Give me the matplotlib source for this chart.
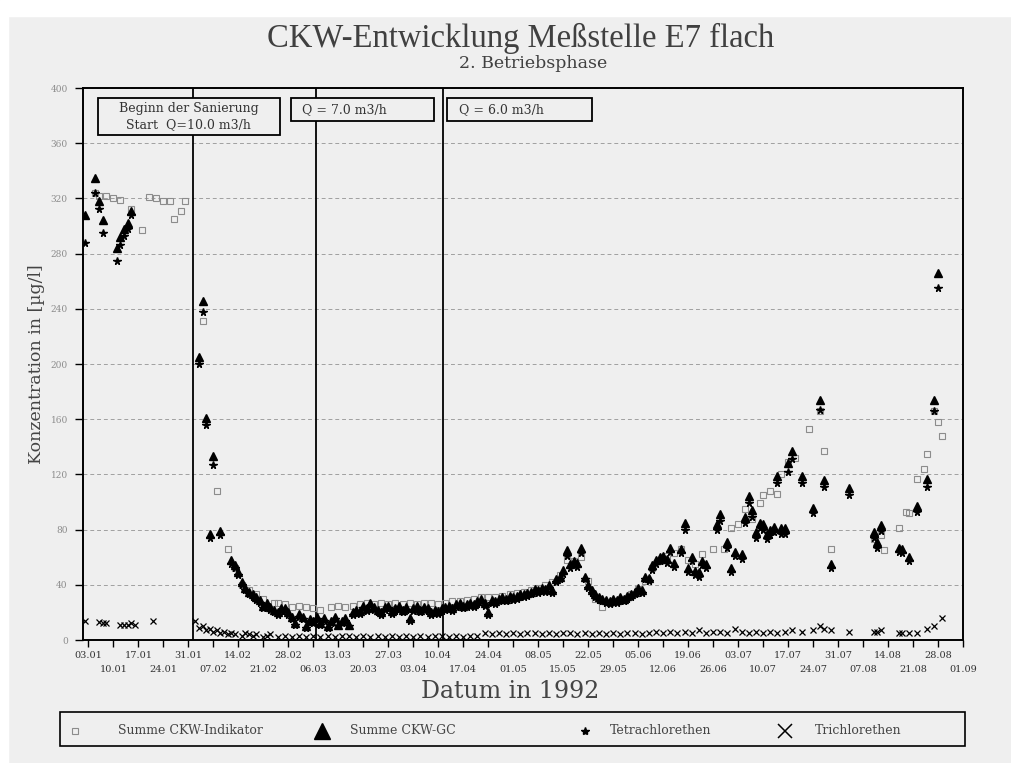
import matplotlib.pyplot as plt
import numpy as np

from matplotlib.lines import Line2D
from matplotlib.patches import Rectangle


HINTERGRUND = '#efefef'  # Farbe des eingescannten Papiers

# Messtage als Tag im Jahr 1992 (1 = 01.01.)
TAGE_GC = [2, 5, 6, 7, 11, 12, 13, 14, 15,
           34, 35, 36, 37, 38, 40, 43, 44, 45, 46, 47, 48, 49, 50, 51, 52, 53, 54, 55, 56, 57, 58, 59, 60,
           61, 62, 63, 64, 65, 66, 67, 68, 69, 70, 71, 72, 73, 74, 75, 76, 77, 78, 79, 80,
           81, 82, 83, 84, 85, 86, 87, 88, 89, 90, 91, 92, 93, 94, 95, 96, 97, 98, 99, 100,
           101, 102, 103, 104, 105, 106, 107, 108, 109, 110, 111, 112, 113, 114, 115, 116, 117, 118, 119, 120,
           121, 122, 123, 124, 125, 126, 127, 128, 129, 130, 131, 132, 133, 134, 135, 136, 137, 138, 139, 140,
           141, 142, 143, 144, 145, 146, 147, 148, 149, 150, 151, 152, 153, 154, 155, 156, 157, 158, 159, 160,
           161, 162, 163, 164, 165, 166, 167, 169, 170, 171, 172, 173, 174, 175, 176, 179, 180, 182, 183, 184,
           186, 187, 188, 189, 190, 191, 192, 193, 194, 195, 196, 197, 198, 199, 200, 203, 206, 208, 209, 211,
           216, 223, 224, 225, 230, 231, 233, 235, 238, 240, 241]

SUMME_GC = [308, 335, 318, 304, 284, 292, 298, 302, 311,
            205, 246, 161, 77, 133, 79, 58, 54, 49, 42, 38, 35, 33, 31, 29, 25, 27, 24, 22, 20, 23, 23, 20, 17,
            12, 19, 17, 10, 15, 14, 17, 12, 16, 10, 14, 17, 11, 14, 16, 11, 20, 22, 21, 25,
            23, 27, 24, 22, 20, 24, 25, 21, 23, 25, 22, 24, 16, 23, 25, 22, 24, 23, 20, 22,
            21, 23, 24, 25, 23, 26, 27, 25, 26, 27, 26, 28, 30, 27, 20, 29, 28, 30, 31, 30,
            32, 31, 32, 33, 33, 34, 35, 37, 36, 38, 37, 40, 36, 44, 46, 51, 65, 55, 57, 56,
            67, 46, 40, 36, 33, 31, 30, 29, 28, 30, 29, 31, 30, 32, 33, 35, 38, 36, 46, 45,
            54, 58, 60, 61, 59, 67, 56, 66, 85, 52, 60, 50, 49, 57, 55, 84, 91, 71, 52, 64,
            62, 89, 104, 94, 78, 85, 84, 77, 80, 82, 119, 81, 81, 128, 137, 119, 96, 174, 116, 55,
            110, 78, 71, 83, 67, 66, 60, 97, 117, 174, 266]

TETRA = [288, 324, 312, 295, 275, 286, 293, 298, 308,
         200, 238, 156, 74, 127, 76, 55, 52, 47, 40, 36, 33, 31, 29, 27, 23, 25, 22, 20, 18, 21, 21, 18, 15,
         11, 17, 15, 9, 13, 12, 15, 11, 14, 9, 12, 15, 10, 12, 14, 10, 18, 20, 19, 23,
         21, 25, 22, 20, 18, 22, 23, 19, 21, 23, 20, 22, 14, 21, 23, 20, 22, 21, 18, 20,
         19, 21, 22, 23, 21, 24, 25, 23, 24, 25, 24, 26, 28, 25, 18, 27, 26, 28, 29, 28,
         30, 29, 30, 31, 31, 32, 33, 35, 34, 36, 35, 38, 34, 42, 44, 48, 61, 52, 54, 53,
         63, 44, 38, 34, 31, 29, 28, 27, 26, 28, 27, 29, 28, 30, 31, 33, 36, 34, 44, 43,
         51, 55, 57, 58, 56, 64, 53, 63, 80, 49, 57, 47, 46, 54, 52, 80, 86, 67, 49, 61,
         59, 85, 99, 89, 74, 81, 80, 73, 76, 78, 114, 77, 77, 122, 131, 114, 92, 167, 111, 52,
         105, 74, 67, 79, 64, 63, 57, 93, 111, 166, 255]

TAGE_INDIKATOR = [5, 6, 8, 10, 12, 15, 18, 20, 22, 24, 26, 27, 29, 30,
                  35, 39, 42, 44, 46, 48, 50, 52, 55, 56, 58, 60, 62, 64, 66, 68, 71, 73, 75, 77, 79,
                  81, 83, 85, 87, 89, 91, 93, 95, 97, 99, 101, 103, 105, 107, 109, 111, 113, 115, 117, 119,
                  121, 123, 125, 127, 129, 131, 133, 135, 137, 139, 141, 143, 145, 147, 149, 151, 153, 155, 157, 159,
                  161, 163, 165, 167, 169, 171, 173, 175, 178, 181, 183, 185, 187, 189, 191, 192, 194, 196, 197, 199,
                  201, 205, 208, 209, 211, 223, 225, 226, 230, 232, 233, 235, 237, 238, 240, 241, 242]

INDIKATOR = [324, 322, 322, 320, 319, 312, 297, 321, 320, 318, 318, 305, 311, 318,
             231, 108, 66, 52, 40, 36, 33, 30, 27, 27, 26, 24, 25, 24, 23, 22, 24, 25, 24, 25, 26,
             27, 26, 27, 26, 27, 26, 27, 26, 27, 27, 26, 27, 28, 28, 29, 30, 31, 31, 31, 32,
             33, 34, 35, 36, 38, 40, 42, 47, 58, 57, 60, 43, 30, 24, 27, 28, 30, 33, 37, 43,
             52, 57, 61, 63, 66, 58, 55, 62, 66, 66, 81, 84, 95, 88, 99, 105, 108, 106, 120, 129,
             132, 153, 166, 137, 66, 73, 76, 65, 81, 93, 92, 117, 124, 135, 166, 158, 148]

TAGE_TRI = [2, 6, 7, 8, 12, 13, 14, 15, 16, 21,
            33, 34, 35, 36, 37, 38, 39, 40, 41, 42, 43, 44, 46, 47, 48, 49, 50, 52, 53, 54, 56, 58, 60,
            62, 64, 66, 68, 70, 72, 74, 76, 78, 80, 82, 84, 86, 88, 90, 92, 94, 96, 98, 100,
            102, 104, 106, 108, 110, 112, 114, 116, 118, 120, 122, 124, 126, 128, 130, 132, 134, 136, 138, 140,
            142, 144, 146, 148, 150, 152, 154, 156, 158, 160, 162, 164, 166, 168, 170, 172, 174, 176, 178, 180,
            182, 184, 186, 188, 190, 192, 194, 196, 198, 200, 203, 206, 208, 209, 211, 216, 223, 224, 225, 230,
            231, 233, 235, 238, 240, 242]

TRI = [14, 13, 12, 12, 11, 11, 11, 12, 11, 14,
       14, 9, 10, 7, 8, 6, 7, 5, 6, 4, 5, 4, 3, 5, 4, 3, 4, 2, 3, 4, 2, 3, 2,
       3, 2, 3, 2, 3, 2, 3, 3, 2, 3, 2, 3, 2, 3, 2, 3, 2, 3, 2, 3,
       3, 2, 3, 2, 3, 3, 5, 4, 5, 4, 5, 4, 5, 5, 4, 5, 4, 5, 5, 4,
       5, 4, 5, 4, 5, 4, 5, 5, 4, 5, 6, 5, 6, 5, 6, 5, 7, 5, 6, 6,
       5, 8, 6, 5, 6, 5, 6, 5, 6, 7, 6, 7, 10, 8, 7, 6, 6, 6, 7, 5,
       5, 5, 5, 8, 10, 16]

# Achsenbeschriftung: wöchentliche Teilstriche ab dem 03.01., abwechselnd in zwei Zeilen
TICK_LABELS = ['03.01', '10.01', '17.01', '24.01', '31.01', '07.02', '14.02', '21.02', '28.02',
               '06.03', '13.03', '20.03', '27.03', '03.04', '10.04', '17.04', '24.04', '01.05',
               '08.05', '15.05', '22.05', '29.05', '05.06', '12.06', '19.06', '26.06', '03.07',
               '10.07', '17.07', '24.07', '31.07', '07.08', '14.08', '21.08', '28.08', '01.09']
Y_TICKS = [0, 40, 80, 120, 160, 200, 240, 280, 320, 360, 400]

# Wechsel der Förderrate (Tag im Jahr)
PHASEN_TAGE = [32.4, 66.8, 102.3]

LEGENDE = ['Summe CKW-Indikator', 'Summe CKW-GC', 'Tetrachlorethen', 'Trichlorethen']


def main() -> None:
    plt.rcParams['font.family'] = ['DejaVu Serif']
    fig = plt.figure(figsize=(10.11, 7.63), dpi=100, facecolor=HINTERGRUND)
    # weißer Rand des Scans oben und links
    fig.add_artist(Rectangle((0, 1 - 16 / 763), 1, 16 / 763, transform=fig.transFigure, color='white', zorder=0))
    fig.add_artist(Rectangle((0, 0), 8 / 1011, 1, transform=fig.transFigure, color='white', zorder=0))

    ax = fig.add_axes([83 / 1011, 123 / 763, 880 / 1011, 552 / 763])
    ax.set_facecolor(HINTERGRUND)

    # Messwerte
    ax.plot(TAGE_INDIKATOR, INDIKATOR, ls='none', marker='s', ms=4.5, mfc='none', mec='#8c8c8c', mew=0.8, zorder=3)
    ax.plot(TAGE_GC, SUMME_GC, ls='none', marker='^', ms=6.2, color='black', zorder=4)
    ax.plot(TAGE_GC, TETRA, ls='none', marker='*', ms=5.5, color='black', zorder=4)
    ax.plot(TAGE_TRI, TRI, ls='none', marker='x', ms=4.5, mew=0.9, color='black', zorder=4)

    for tag in PHASEN_TAGE:
        ax.axvline(tag, color='black', lw=1.3, zorder=2)

    # Kästen mit den Förderraten
    boxes = [((0.017, 0.915), 0.207, 0.067), ((0.236, 0.94), 0.163, 0.042), ((0.414, 0.94), 0.164, 0.042)]
    for (x0, y0), w, h in boxes:
        ax.add_patch(Rectangle((x0, y0), w, h, transform=ax.transAxes, fc=HINTERGRUND, ec='black', lw=1.3, zorder=5))
    ax.text(0.12, 0.948, 'Beginn der Sanierung\nStart  Q=10.0 m3/h', transform=ax.transAxes, ha='center', va='center',
            fontsize=9, linespacing=1.3, color='#333333', zorder=6)
    ax.text(0.249, 0.961, 'Q = 7.0 m3/h', transform=ax.transAxes, ha='left', va='center', fontsize=9, color='#333333', zorder=6)
    ax.text(0.427, 0.961, 'Q = 6.0 m3/h', transform=ax.transAxes, ha='left', va='center', fontsize=9, color='#333333', zorder=6)

    # Achsen
    ax.set_xlim(1.5, 248)
    ax.set_ylim(0, 400)
    ticks = np.arange(3, 249, 7)
    ax.set_xticks(ticks[0::2], labels=TICK_LABELS[0::2])
    ax.set_xticks(ticks[1::2], labels=TICK_LABELS[1::2], minor=True)
    ax.tick_params(axis='x', which='both', labelsize=7, labelcolor='#333333', direction='out', length=5, width=1)
    ax.tick_params(axis='x', which='major', pad=3)
    ax.tick_params(axis='x', which='minor', pad=13)
    ax.set_yticks(Y_TICKS, labels=[str(v) for v in Y_TICKS])
    ax.tick_params(axis='y', labelsize=6.5, labelcolor='#8c8c8c', direction='out', length=6, width=1, pad=5)
    ax.grid(axis='y', color='#a0a0a0', ls=(0, (4, 3)), lw=0.7)
    for sp in ax.spines.values():
        sp.set_linewidth(1.4)
    ax.set_ylabel('Konzentration in [µg/l]', fontsize=12.5, color='#444444', labelpad=4)
    ax.set_xlabel('Datum in 1992', fontsize=17, color='#444444')
    ax.xaxis.set_label_coords(0.485, -0.072)

    # Titel
    fig.text(521 / 1011, 1 - 38 / 763, 'CKW-Entwicklung Meßstelle E7 flach', ha='center', va='center',
             fontsize=23.5, family='Liberation Serif', color='#404040')
    fig.text(533 / 1011, 1 - 63 / 763, '2. Betriebsphase', ha='center', va='center',
             fontsize=12.5, color='#404040')

    # Legende als eigener Kasten unter dem Diagramm
    fig.add_artist(Rectangle((60 / 1011, 17 / 763), 905 / 1011, 34 / 763, transform=fig.transFigure,
                             fc=HINTERGRUND, ec='black', lw=1.2))
    handles = [dict(marker='s', ms=5, mfc='none', mec='#8c8c8c', mew=0.8),
               dict(marker='^', ms=12, color='black'),
               dict(marker='*', ms=6, color='black'),
               dict(marker='x', ms=10, mew=1.1, color='black')]
    marker_x = [75, 322, 585, 785]
    text_x = [118, 350, 610, 815]
    for hd, mx, tx, lab in zip(handles, marker_x, text_x, LEGENDE):
        fig.add_artist(Line2D([mx / 1011], [1 - 731 / 763], ls='none', transform=fig.transFigure, **hd))
        fig.text(tx / 1011, 1 - 731 / 763, lab, ha='left', va='center', fontsize=9, color='#444444')

    fig.savefig('out.png', dpi=100, facecolor=HINTERGRUND)


if __name__ == '__main__':
    main()
